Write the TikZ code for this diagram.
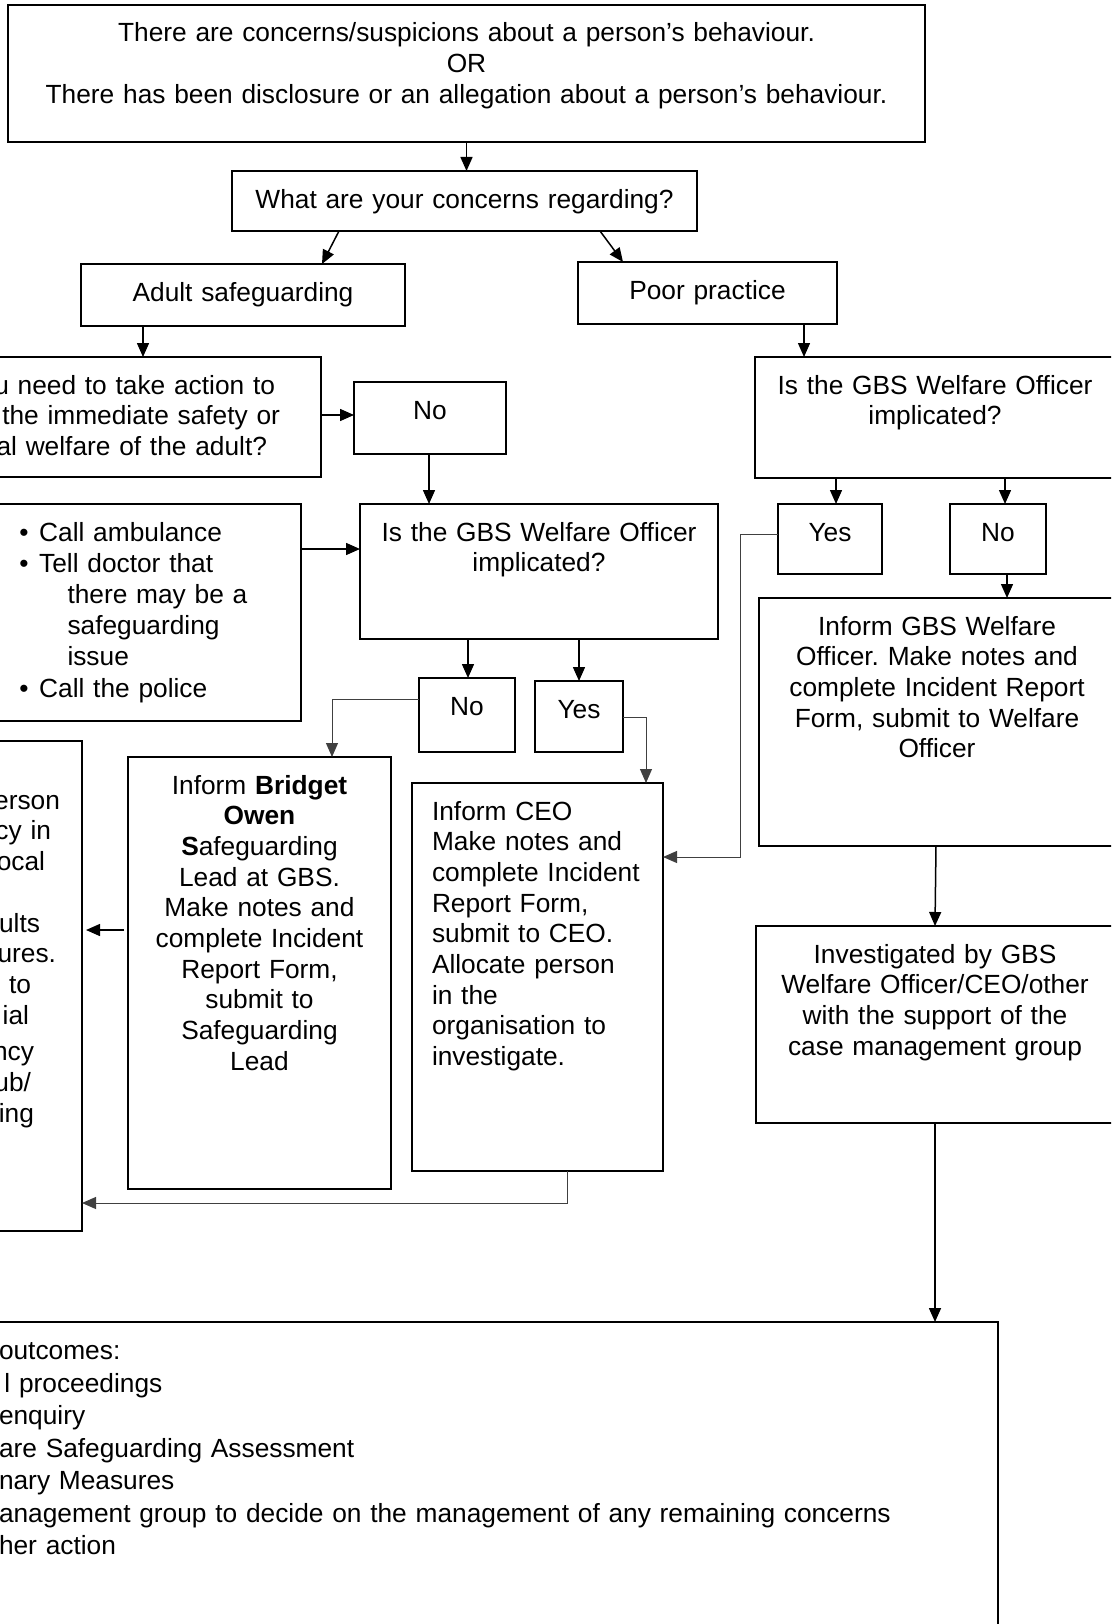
\documentclass[tikz,border=0pt]{standalone}
\usepackage{fontspec}
\setmainfont{Liberation Sans}
\usetikzlibrary{arrows.meta}
\frenchspacing

\begin{document}
\begin{tikzpicture}[
    x=1pt, y=-1pt,
    box/.style={draw, line width=1.7pt, anchor=north west, outer sep=0pt, inner ysep=0pt, inner xsep=10pt, text height=37pt, align=center, font=\fontsize{26.3}{30.7}\selectfont},
    arrow/.style={line width=1.5pt, -{Triangle[length=14pt, width=12pt]}},
    link/.style={line width=1pt, draw=black!75, -{Triangle[length=14pt, width=12pt]}}
]
    \useasboundingbox (0,0) rectangle (1111,1624);
    \clip (0,0) rectangle (1111,1624);

    % Start
    \node[box, text width=897pt, text depth=100pt] (concern) at (8,5) {There are concerns/suspicions about a person’s behaviour.\\OR\\There has been disclosure or an allegation about a person’s behaviour.};
    \node[box, text width=445pt, text depth=23pt] (regarding) at (232,171) {What are your concerns regarding?};
    \node[box, text width=304pt, text depth=25pt] (adult) at (81,264) {Adult safeguarding};
    \node[box, text width=239pt, text depth=25pt] (poor) at (578,262) {Poor practice};

    % Adult safeguarding
    \node[box, inner xsep=41pt, text width=339pt, text depth=83pt, align=right] (doneed) at (-100,357) {u need to take action to\kern5pt\\the immediate safety or\\al welfare of the adult?\kern13pt};
    \node[box, text width=132pt, text depth=35pt] (no1) at (354,382) {No};
    \node[box, inner xsep=34.5pt, text width=247pt, text depth=180pt, align=left, font=\fontsize{26.3}{31.2}\selectfont] (bullets) at (-15,504) {\textbullet\hspace{10.5pt}Call ambulance\\\textbullet\hspace{10.5pt}Tell doctor that\\\hspace*{48pt}there may be a\\\hspace*{48pt}safeguarding\\\hspace*{48pt}issue\\\textbullet\hspace{10.5pt}Call the police};
    \node[box, text width=338pt, text depth=98pt] (gbs1) at (360,504) {Is the GBS Welfare Officer\\implicated?};
    \node[box, inner xsep=5pt, text width=86pt, text depth=37pt] (no2) at (419,678) {No};
    \node[box, inner xsep=5pt, text width=78pt, text depth=34pt] (yes2) at (535,681) {Yes};
    \node[box, inner xsep=22pt, text width=138pt, text height=68pt, text depth=422pt, align=right] (leftbox) at (-100,741) {erson\\cy in\kern9pt\\ocal\kern15pt\\[31pt]ults\kern20pt\\ures.\kern4pt\\to\kern29pt\\ial\kern31pt\\[6pt]ncy\kern26pt\\ub/\kern29pt\\ing\kern26pt};
    \node[box, text width=243pt, text depth=395pt] (bridget) at (128,757) {Inform \textbf{Bridget}\\\textbf{Owen}\\\textbf{S}afeguarding\\Lead at GBS.\\Make notes and\\complete Incident\\Report Form,\\submit to\\Safeguarding\\Lead};
    \node[box, inner xsep=20pt, text width=211pt, text depth=351pt, align=left] (ceo) at (412,783) {Inform CEO\\Make notes and\\complete Incident\\Report Form,\\submit to CEO.\\Allocate person\\in the\\organisation to\\investigate.};

    % Poor practice
    \node[box, text width=340pt, text depth=84pt] (gbs2) at (755,357) {Is the GBS Welfare Officer\\implicated?};
    \node[box, inner xsep=5pt, text width=94pt, text depth=33pt] (yes3) at (778,504) {Yes};
    \node[box, inner xsep=5pt, text width=86pt, text depth=33pt] (no3) at (950,504) {No};
    \node[box, text width=336pt, text depth=211pt] (inform) at (759,598) {Inform GBS Welfare\\Officer. Make notes and\\complete Incident Report\\Form, submit to Welfare\\Officer};
    \node[box, text width=338pt, text depth=160pt] (investigated) at (756,926) {Investigated by GBS\\Welfare Officer/CEO/other\\with the support of the\\case management group};

    % Outcomes
    \node[box, inner xsep=99pt, text width=900pt, text height=37.5pt, text depth=341pt, align=left, font=\fontsize{26.3}{32.5}\selectfont] (outcomes) at (-100,1322) {outcomes:\\\hspace*{5.5pt}l proceedings\\enquiry\\are Safeguarding Assessment\\nary Measures\\anagement group to decide on the management of any remaining concerns\\her action};

    % Arrows
    \draw[arrow] (concern.south) -- (concern.south |- regarding.north);
    \draw[arrow] ([xshift=107pt]regarding.south west) -- ([xshift=241pt]adult.north west);
    \draw[arrow] ([xshift=368pt]regarding.south west) -- ([xshift=45pt]poor.north west);
    \draw[arrow] ([xshift=62pt]adult.south west) -- ([xshift=243pt]doneed.north west);
    \draw[arrow] ([xshift=226pt]poor.south west) -- ([xshift=49pt]gbs2.north west);

    \draw[arrow] ([yshift=-58pt]doneed.north east) -- ([yshift=-33pt]no1.north west);
    \draw[arrow] ([xshift=75pt]no1.south west) -- ([xshift=69pt]gbs1.north west);
    \draw[arrow] ([yshift=-45pt]bullets.north east) -- ([yshift=-45pt]gbs1.north west);
    \draw[arrow] ([xshift=108pt]gbs1.south west) -- ([xshift=49pt]no2.north west);
    \draw[arrow] ([xshift=219pt]gbs1.south west) -- ([xshift=44pt]yes2.north west);
    \draw[link] ([yshift=-21pt]no2.north west) -| ([xshift=204pt]bridget.north west);
    \draw[link] ([yshift=-36pt]yes2.north east) -| ([xshift=234pt]ceo.north west);
    \draw[arrow, shorten <=4pt, shorten >=4pt] ([yshift=-173pt]bridget.north west) -- ([yshift=-189pt]leftbox.north east);
    \draw[link] ([xshift=155pt]ceo.south west) |- ([yshift=-462pt]leftbox.north east);

    \draw[arrow] ([xshift=81pt]gbs2.south west) -- ([xshift=58pt]yes3.north west);
    \draw[arrow] ([xshift=250pt]gbs2.south west) -- ([xshift=55pt]no3.north west);
    \draw[arrow] ([xshift=57pt]no3.south west) -- ([xshift=248pt]inform.north west);
    \draw[link] ([yshift=-30pt]yes3.north west) -- ++(-38,0) |- ([yshift=-74pt]ceo.north east);
    \draw[arrow] ([xshift=177pt]inform.south west) -- ([xshift=179pt]investigated.north west);
    \draw[arrow] ([xshift=179pt]investigated.south west) -- ([xshift=1035pt]outcomes.north west);
\end{tikzpicture}
\end{document}
